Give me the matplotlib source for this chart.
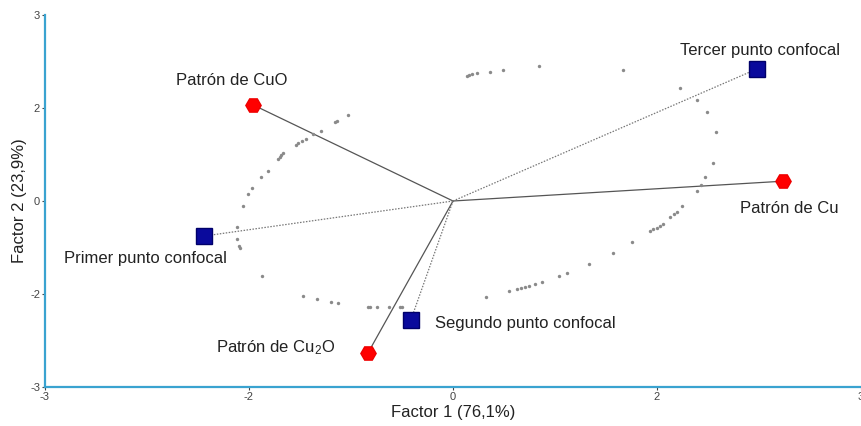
import matplotlib
matplotlib.use("Agg")
import matplotlib.pyplot as plt

plt.rcParams['font.family'] = ['Liberation Sans', 'DejaVu Sans']
plt.rcParams['mathtext.fontset'] = 'custom'
plt.rcParams['mathtext.rm'] = 'Liberation Sans'
plt.rcParams['mathtext.it'] = 'Liberation Sans'
plt.rcParams['mathtext.default'] = 'regular'

# Standards (red hexagons) - loadings
std_names = ["Patrón de CuO", "Patrón de Cu", "Patrón de Cu$_2$O"]
std_x = [-1.47, 2.43, -0.625]
std_y = [1.55, 0.32, -2.45]

# Confocal points (blue squares)
conf_names = ["Tercer punto confocal", "Primer punto confocal", "Segundo punto confocal"]
conf_x = [2.235, -1.83, -0.31]
conf_y = [2.13, -0.565, -1.92]

# Gray scores
score_x = [-0.772, -0.853, -0.868, -0.971, -1.029, -1.081, -1.110, -1.140, -1.154,
           -1.25, -1.265, -1.272, -1.287, -1.360, -1.412, -1.478, -1.507, -1.544,
           -1.588, -1.588, -1.574, -1.566, -1.404, -1.103, -1.0, -0.897, -0.846,
           -0.625, -0.610, -0.559, -0.471, -0.390, -0.375,
           0.243, 0.412, 0.471, 0.5, 0.529, 0.559, 0.603, 0.654, 0.779, 0.838,
           1.0, 1.176, 1.316, 1.449, 1.471, 1.5, 1.522, 1.544, 1.596, 1.625,
           1.647, 1.684, 1.794, 1.824, 1.853, 1.912, 1.934, 1.868, 1.794, 1.669,
           1.25, 0.632, 0.368, 0.272, 0.176, 0.140, 0.118, 0.103]
score_y = [1.387, 1.29, 1.274, 1.129, 1.081, 1.0, 0.968, 0.935, 0.903,
           0.774, 0.742, 0.71, 0.677, 0.484, 0.387, 0.21, 0.113, -0.081,
           -0.419, -0.613, -0.726, -0.758, -1.21, -1.532, -1.58, -1.629, -1.645,
           -1.71, -1.71, -1.71, -1.71, -1.71, -1.71,
           -1.548, -1.452, -1.419, -1.403, -1.387, -1.371, -1.339, -1.306, -1.21, -1.161,
           -1.016, -0.839, -0.661, -0.484, -0.452, -0.435, -0.403, -0.371, -0.258, -0.21,
           -0.177, -0.081, 0.161, 0.258, 0.387, 0.613, 1.113, 1.435, 1.629, 1.823,
           2.113, 2.177, 2.113, 2.081, 2.065, 2.048, 2.032, 2.016]

tick_vals = [-3, -1.5, 0, 1.5, 3]
tick_labels = ["-3", "-2", "0", "2", "3"]

fig = plt.figure(figsize=(8.61, 4.26), dpi=100)
ax = fig.add_axes([45/861, 39/426, 816/861, 372/426])
ax.set_xlim(-3, 3)
ax.set_ylim(-3, 3)

ax.scatter(score_x, score_y, s=6, color='#8a8a8a', zorder=2, linewidths=0)

for x, y in zip(std_x, std_y):
    ax.plot([0, x], [0, y], color='#555555', lw=0.9, zorder=1)
for x, y in zip(conf_x, conf_y):
    ax.plot([0, x], [0, y], color='#777777', lw=0.9, ls=(0, (1.2, 1.2)), zorder=1)

ax.plot(std_x, std_y, ls='none', marker='H', markersize=11, color='#ff0000',
        markeredgecolor='#ee0000', zorder=4)
ax.plot(conf_x, conf_y, ls='none', marker='s', markersize=11, color='#0a0a9c',
        markeredgecolor='#00006a', zorder=4)

fs = 12
tc = '#222222'
ax.text(std_x[0] - 0.16, std_y[0] + 0.40, std_names[0], ha='center', va='center', fontsize=fs, color=tc)
ax.text(std_x[1] + 0.04, std_y[1] - 0.44, std_names[1], ha='center', va='center', fontsize=fs, color=tc)
ax.text(std_x[2] - 0.24, std_y[2] + 0.08, std_names[2], ha='right', va='center', fontsize=fs, color=tc)
ax.text(conf_x[0] + 0.02, conf_y[0] + 0.29, conf_names[0], ha='center', va='center', fontsize=fs, color=tc)
ax.text(conf_x[1] + 0.17, conf_y[1] - 0.37, conf_names[1], ha='right', va='center', fontsize=fs, color=tc)
ax.text(conf_x[2] + 0.18, conf_y[2] - 0.05, conf_names[2], ha='left', va='center', fontsize=fs, color=tc)

ax.set_xticks(tick_vals)
ax.set_xticklabels(tick_labels)
ax.set_yticks(tick_vals)
ax.set_yticklabels(tick_labels)
ax.tick_params(axis='both', labelsize=8, colors='#444444', length=2, width=0.8, pad=1.5)

for side in ['top', 'right']:
    ax.spines[side].set_visible(False)
for side in ['left', 'bottom']:
    ax.spines[side].set_color('#3aa3d0')
    ax.spines[side].set_linewidth(1.6)

ax.set_xlabel("Factor 1 (76,1%)", fontsize=12, color=tc, labelpad=2)
ax.set_ylabel("Factor 2 (23,9%)", fontsize=12, color=tc, labelpad=2)

fig.savefig("out.png", dpi=100)
